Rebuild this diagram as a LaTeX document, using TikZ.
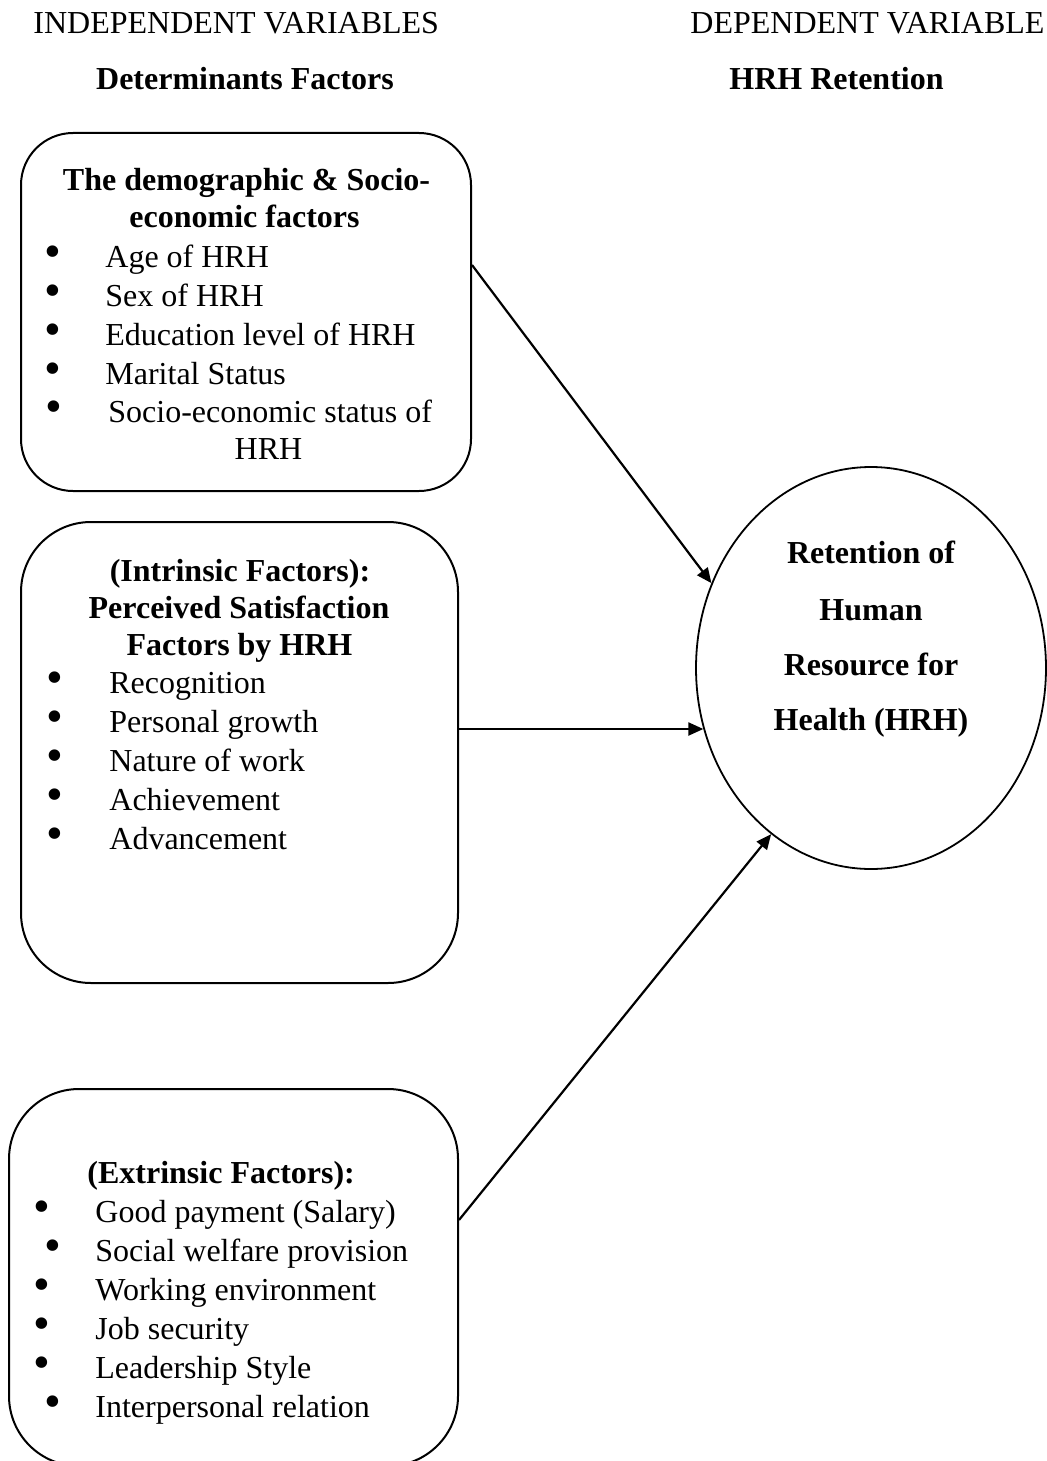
\documentclass[tikz,border=0pt]{standalone}
\usepackage{fontspec}
\setmainfont{Liberation Serif}
\usetikzlibrary{arrows.meta,shapes.geometric}
\tikzset{
  boxs/.style={draw, line width=1pt, inner sep=0pt},
  txt/.style={anchor=base west, inner sep=0pt, font=\fontsize{16}{19}\selectfont},
  ctr/.style={anchor=base, inner sep=0pt, font=\fontsize{16}{19}\selectfont},
  bld/.style={anchor=base, inner sep=0pt, font=\fontsize{16}{19}\selectfont\bfseries},
  bul/.style={anchor=center, inner sep=0pt, yshift=5pt, font=\fontsize{24}{24}\selectfont},
  arr/.style={line width=1.1pt, -{Triangle[length=7.5pt,width=6.5pt]}}
}
\begin{document}
\begin{tikzpicture}[x=0.5pt,y=-0.5pt]
\useasboundingbox (0,0) rectangle (1047,1461);
\clip (0,0) rectangle (1047,1461);

% headers
\node[txt] (hind) at (33,34) {INDEPENDENT VARIABLES};
\node[txt] (hdep) at (690,34) {DEPENDENT VARIABLE};
\node[bld] (hdet) at (245,90) {Determinants Factors};
\node[bld] (hret) at (836.5,90) {HRH Retention};

% boxes
\node[boxs, rounded corners=26pt, minimum width=225pt, minimum height=179pt] (b1) at (246,312) {};
\node[boxs, rounded corners=35pt, minimum width=218.5pt, minimum height=230.5pt] (b2) at (239.5,752.5) {};
\node[boxs, rounded corners=35pt, minimum width=224.5pt, minimum height=188.5pt] (b3) at (233.5,1277.5) {};
\node[draw, ellipse, line width=0.9pt, inner sep=0pt, minimum width=175pt, minimum height=201pt] (circ) at (871,668) {};

% box 1 text
\node[bld] (b1t1) at (246.5,191) {The demographic \& Socio-};
\node[bld] (b1t2) at (244.5,227) {economic factors};
\node[bul] (b1u1) at (53,267) {•};
\node[txt] (b1l1) at (105,267) {Age of HRH};
\node[bul] (b1u2) at (53,306) {•};
\node[txt] (b1l2) at (105,306) {Sex of HRH};
\node[bul] (b1u3) at (53,345) {•};
\node[txt] (b1l3) at (105,345) {Education level of HRH};
\node[bul] (b1u4) at (53,384) {•};
\node[txt] (b1l4) at (105,384) {Marital Status};
\node[bul] (b1u5) at (54,422) {•};
\node[txt] (b1l5) at (108,422) {Socio-economic status of};
\node[ctr] (b1l6) at (268.5,459) {HRH};

% box 2 text
\node[bld] (b2t1) at (240,581) {(Intrinsic Factors):};
\node[bld] (b2t2) at (239,618) {Perceived Satisfaction};
\node[bld] (b2t3) at (239.5,655) {Factors by HRH};
\node[bul] (b2u1) at (54.5,693) {•};
\node[txt] (b2l1) at (109,693) {Recognition};
\node[bul] (b2u2) at (54.5,732) {•};
\node[txt] (b2l2) at (109,732) {Personal growth};
\node[bul] (b2u3) at (54.5,771) {•};
\node[txt] (b2l3) at (109,771) {Nature of work};
\node[bul] (b2u4) at (54.5,810) {•};
\node[txt] (b2l4) at (109,810) {Achievement};
\node[bul] (b2u5) at (54.5,849) {•};
\node[txt] (b2l5) at (109,849) {Advancement};

% box 3 text
\node[txt, font=\fontsize{16}{19}\selectfont\bfseries] (b3t1) at (87,1183) {(Extrinsic Factors):};
\node[bul] (b3u1) at (42,1222) {•};
\node[txt] (b3l1) at (95,1222) {Good payment (Salary)};
\node[bul] (b3u2) at (53,1261) {•};
\node[txt] (b3l2) at (95,1261) {Social welfare provision};
\node[bul] (b3u3) at (42,1300) {•};
\node[txt] (b3l3) at (95,1300) {Working environment};
\node[bul] (b3u4) at (42,1339) {•};
\node[txt] (b3l4) at (95,1339) {Job security};
\node[bul] (b3u5) at (42,1378) {•};
\node[txt] (b3l5) at (95,1378) {Leadership Style};
\node[bul] (b3u6) at (53,1417) {•};
\node[txt] (b3l6) at (95,1417) {Interpersonal relation};

% ellipse text
\node[bld] (e1) at (871,563) {Retention of};
\node[bld] (e2) at (871,620) {Human};
\node[bld] (e3) at (871,675) {Resource for};
\node[bld] (e4) at (871,730) {Health (HRH)};

% connectors
\draw[arr] ([yshift=23.5pt]b1.east) -- (circ.152.9);
\draw[arr] ([yshift=11.75pt]b2.east) -- ([yshift=11.75pt]b2.east -| circ.200);
\draw[arr] ([yshift=28.75pt]b3.east) -- (circ.239.6);
\end{tikzpicture}
\end{document}
